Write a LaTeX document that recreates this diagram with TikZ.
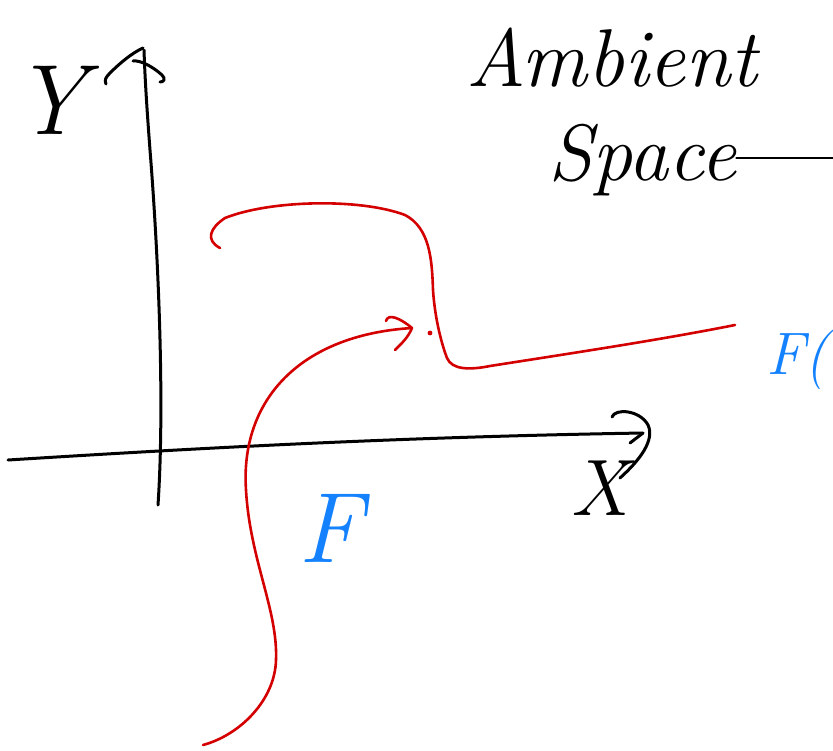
\documentclass[tikz,border=0pt]{standalone}
\usepackage{fontspec}
\definecolor{penred}{RGB}{212,0,0}
\definecolor{penblue}{RGB}{20,130,255}
\begin{document}
\begin{tikzpicture}[x=1pt,y=-1pt,line cap=round,line join=round,
  ink/.style={line width=3pt,draw=black},
  redink/.style={line width=2.6pt,draw=penred},
  hand/.style={inner sep=0pt,font=\itshape}]
\useasboundingbox (0,0) rectangle (833,750);
% Y axis
\draw[ink] (158,505) .. controls (165,400) and (158,250) .. (150,150) .. controls (147,110) and (145,80) .. (144,50);
\draw[ink] (106,84) .. controls (104,80) and (106,77) .. (110,73) .. controls (120,63) and (132,53) .. (143,48);
\draw[ink] (133,61) .. controls (140,60) and (152,66) .. (162,75) .. controls (166,79) and (164,82) .. (160,82);
\node[hand,font=\fontsize{100}{100}\selectfont\itshape] (ylab) at (50,100) {Y};
% X axis
\draw[ink] (8,460) .. controls (200,448) and (400,437) .. (643,433);
\draw[ink] (630,443) -- (643,433);
\draw[ink] (612,417) .. controls (615,408) and (640,410) .. (648,425) .. controls (655,440) and (640,460) .. (620,478);
\node[hand,font=\fontsize{80}{80}\selectfont\itshape] (xlab) at (600,488) {X};
% title
\node[hand,font=\fontsize{82}{82}\selectfont\itshape] (amb) at (612,58) {Ambient};
\node[hand,font=\fontsize{80}{80}\selectfont\itshape,anchor=base west] (spc) at (548,180) {Space};
\draw[ink,line width=2.4pt] (spc.east |- 0,158) -- (833,158);
% red curves
\draw[redink] (220,248) .. controls (205,240) and (210,228) .. (225,218) .. controls (270,200) and (360,198) .. (405,215) .. controls (430,228) and (432,260) .. (433,290) .. controls (435,320) and (442,345) .. (447,358) .. controls (452,370) and (470,370) .. (490,366) .. controls (560,355) and (660,340) .. (735,325);
\draw[redink] (203,745) .. controls (240,735) and (275,700) .. (276,660) .. controls (278,610) and (250,560) .. (246,490) .. controls (240,400) and (300,335) .. (412,328);
\draw[redink] (386,321) .. controls (388,313) and (400,318) .. (412,328) .. controls (408,338) and (400,345) .. (395,350);
\fill[penred] (430,333) circle (2.4pt);
% blue labels
\node[hand,text=penblue,font=\fontsize{100}{100}\selectfont\itshape] (F) at (330,528) {F};
\node[hand,text=penblue,font=\fontsize{60}{60}\selectfont\itshape,anchor=west] (FC) at (766,360) {F(};
\end{tikzpicture}
\end{document}
